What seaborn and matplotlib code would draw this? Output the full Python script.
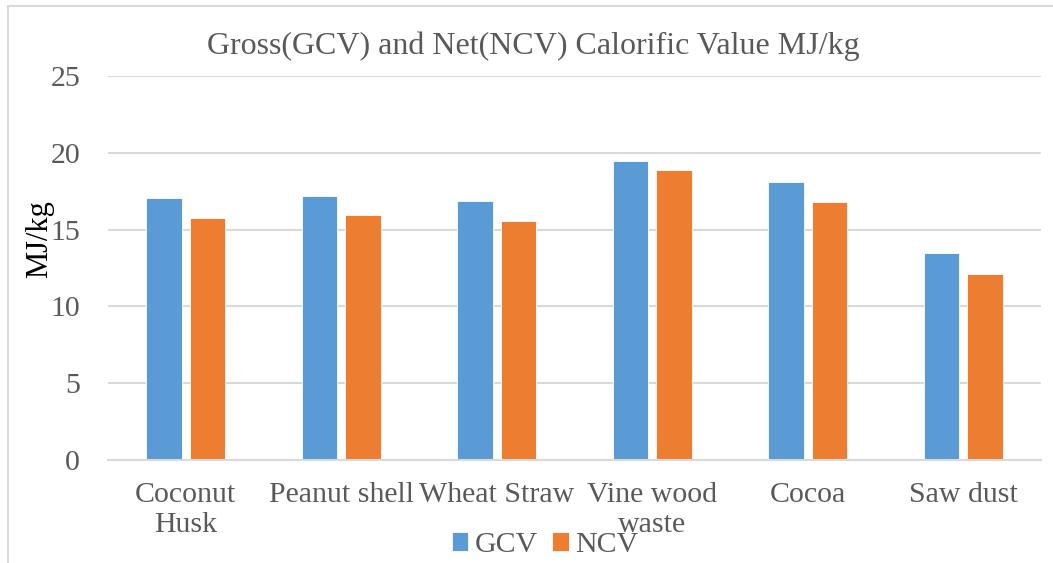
import matplotlib
matplotlib.use("Agg")
import matplotlib.pyplot as plt
import seaborn as sns
import pandas as pd
from matplotlib.lines import Line2D

categories = ["Coconut\nHusk", "Peanut shell", "Wheat Straw", "Vine wood\nwaste", "Cocoa", "Saw dust"]
gcv = [17.08, 17.16, 16.86, 19.46, 18.08, 13.49]
ncv = [15.76, 15.95, 15.56, 18.88, 16.82, 12.14]
series = ["GCV", "NCV"]
colors = ["#5B9BD5", "#ED7D31"]
yticks = [0, 5, 10, 15, 20, 25]

df = pd.DataFrame({
    "category": categories * 2,
    "value": gcv + ncv,
    "series": [series[0]] * len(categories) + [series[1]] * len(categories),
})

sns.set_theme(style="white")
plt.rcParams["font.family"] = ["Liberation Serif", "DejaVu Serif"]

W, H = 1053, 563
fig = plt.figure(figsize=(W / 100, H / 100), dpi=100)
ax = fig.add_axes([108 / W, 1 - 460 / H, (1041 - 108) / W, (460 - 76) / H])

sns.barplot(data=df, x="category", y="value", hue="series", palette=colors,
            saturation=1, width=0.56, gap=0.18, order=categories, hue_order=series,
            edgecolor="white", linewidth=0.6, ax=ax, legend=True)

ax.set_xlim(-0.5, len(categories) - 0.5)
ax.set_ylim(0, 25)
ax.set_yticks(yticks)
ax.set_yticklabels([str(t) for t in yticks])
ax.yaxis.grid(True, color="#D9D9D9", linewidth=1.5)
ax.set_axisbelow(True)
for s in ["top", "right", "left"]:
    ax.spines[s].set_visible(False)
ax.spines["bottom"].set_color("#D9D9D9")
ax.spines["bottom"].set_linewidth(1.5)
ax.tick_params(axis="both", length=0, labelcolor="#595959", labelsize=21.5)
ax.tick_params(axis="y", pad=20)
ax.tick_params(axis="x", pad=16)
for lab in ax.get_xticklabels():
    lab.set_linespacing(1.2)
ax.set_xlabel("")
ax.set_ylabel("")

fig.text(40 / W, 1 - 239 / H, "MJ/kg", rotation=90, ha="center", va="center",
         fontsize=22, color="black")
fig.text(533 / W, 1 - 46 / H, "Gross(GCV) and Net(NCV) Calorific Value MJ/kg",
         ha="center", va="center", fontsize=23, color="#595959")

handles, labels = ax.get_legend_handles_labels()
ax.legend(handles, labels, loc="center", bbox_to_anchor=(545 / W, 18 / H),
          bbox_transform=fig.transFigure, ncol=2, frameon=False,
          fontsize=21.5, handlelength=0.55, handleheight=0.6,
          handletextpad=0.2, columnspacing=0.5, labelcolor="#595959")

# chart border (top and left visible)
fig.add_artist(Line2D([8 / W, 1.0], [1 - 6 / H, 1 - 6 / H], transform=fig.transFigure,
                      color="#D9D9D9", linewidth=1.5))
fig.add_artist(Line2D([8 / W, 8 / W], [0, 1 - 6 / H], transform=fig.transFigure,
                      color="#D9D9D9", linewidth=1.5))

fig.savefig("out.png", dpi=100)
